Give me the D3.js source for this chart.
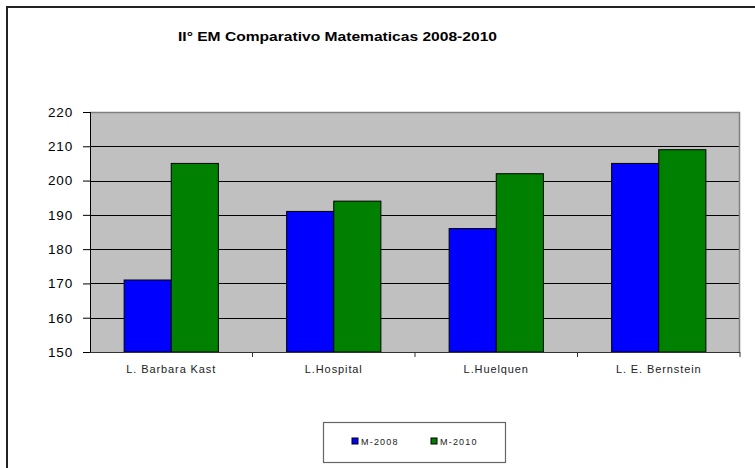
<!DOCTYPE html>
<meta charset="utf-8">
<style>
    body {
        margin: 0;
        background: #fff;
        font-family: Arial, "Liberation Sans", sans-serif;
    }
    .title {
        font-size: 13px;
        font-weight: bold;
        fill: #000;
    }
    .y.axis text {
        font-size: 13.5px;
        fill: #000;
        letter-spacing: 0.8px;
    }
    .x.axis text {
        font-size: 11px;
        fill: #222;
        letter-spacing: 0.9px;
    }
    .grid line {
        stroke: #000;
        stroke-width: 1;
    }
    rect.bar {
        stroke: #000;
        stroke-width: 1;
    }
    .legend text {
        font-size: 9px;
        fill: #222;
        letter-spacing: 1.2px;
    }
</style>
<body>
<script src="https://cdn.jsdelivr.net/npm/d3@7"></script>
<script>

    var categories = ["L. Barbara Kast", "L.Hospital", "L.Huelquen", "L. E. Bernstein"],
        seriesNames = ["M-2008", "M-2010"],
        m2008 = [171, 191, 186, 205],
        m2010 = [205, 194, 202, 209],
        yTicks = [150, 160, 170, 180, 190, 200, 210, 220],
        colors = ["#0000ff", "#008000"];

    var W = 755, H = 468,
        margin = {top: 112, right: 15, bottom: 116, left: 90},
        width = W - margin.left - margin.right,
        height = H - margin.top - margin.bottom;

    var data = categories.map(function(c, i) {
        return {cat: c, values: [m2008[i], m2010[i]]};
    });

    var x0 = d3.scaleBand()
            .domain(categories)
            .range([0, width])
            .paddingInner(0)
            .paddingOuter(0);

    var x1 = d3.scaleBand()
            .domain(seriesNames)
            .range([x0.bandwidth() * 0.21, x0.bandwidth() * 0.79]);

    var y = d3.scaleLinear()
            .domain([150, 220])
            .range([height, 0]);

    var svg = d3.select("body").append("svg")
            .attr("width", W)
            .attr("height", H);

    // outer frame (only top and left edges show)
    svg.append("path")
            .attr("d", "M7," + H + "V7H" + W)
            .attr("fill", "none")
            .attr("stroke", "#222")
            .attr("stroke-width", 2);

    svg.append("text")
            .attr("class", "title")
            .attr("x", 178)
            .attr("y", 41)
            .attr("textLength", 319)
            .attr("lengthAdjust", "spacingAndGlyphs")
            .text("II\u00b0 EM Comparativo Matematicas 2008-2010");

    var g = svg.append("g")
            .attr("transform", "translate(" + margin.left + "," + margin.top + ")");

    g.append("rect")
            .attr("width", width)
            .attr("height", height)
            .attr("fill", "#c0c0c0");

    g.append("g")
            .attr("class", "grid")
        .selectAll("line")
        .data(yTicks.slice(1, -1))
        .enter().append("line")
            .attr("x1", 0)
            .attr("x2", width)
            .attr("y1", function(d) { return Math.round(y(d)) + 0.5; })
            .attr("y2", function(d) { return Math.round(y(d)) + 0.5; });

    // plot border top/right
    g.append("path")
            .attr("d", "M0,0.5H" + (width - 0.5) + "V" + height)
            .attr("fill", "none")
            .attr("stroke", "#808080")
            .attr("stroke-width", 1.5);

    var groups = g.selectAll("g.group")
        .data(data)
        .enter().append("g")
            .attr("class", "group")
            .attr("transform", function(d) { return "translate(" + x0(d.cat) + ",0)"; });

    groups.selectAll("rect")
        .data(function(d) { return d.values.map(function(v, i) { return {key: seriesNames[i], value: v, i: i}; }); })
        .enter().append("rect")
            .attr("class", "bar")
            .attr("x", function(d) { return x1(d.key); })
            .attr("y", function(d) { return y(d.value); })
            .attr("width", x1.bandwidth())
            .attr("height", function(d) { return height - y(d.value); })
            .attr("fill", function(d) { return colors[d.i]; });

    var yAxis = d3.axisLeft(y)
            .tickValues(yTicks)
            .tickSize(7)
            .tickPadding(10);

    g.append("g")
            .attr("class", "y axis")
            .call(yAxis)
            .call(function(s) {
                s.select(".domain").attr("stroke", "#000").attr("d", "M0.5,0V" + height);
                s.selectAll(".tick line").attr("stroke", "#000");
            });

    var xAxis = d3.axisBottom(x0)
            .tickSize(0)
            .tickPadding(13);

    var xg = g.append("g")
            .attr("class", "x axis")
            .attr("transform", "translate(0," + height + ")")
            .call(xAxis);
    xg.select(".domain").attr("stroke", "#333").attr("d", "M0,0.5H" + width);

    // category separator ticks
    xg.selectAll("line.sep")
        .data(categories)
        .enter().append("line")
            .attr("class", "sep")
            .attr("x1", function(d) { return x0(d) + x0.bandwidth(); })
            .attr("x2", function(d) { return x0(d) + x0.bandwidth(); })
            .attr("y1", 0)
            .attr("y2", 5)
            .attr("stroke", "#333");

    // legend
    var legend = svg.append("g")
            .attr("class", "legend");

    legend.append("rect")
            .attr("x", 323.5)
            .attr("y", 422.5)
            .attr("width", 182)
            .attr("height", 40)
            .attr("fill", "#fff")
            .attr("stroke", "#666")
            .attr("stroke-width", 1.2);

    var item = legend.selectAll("g.item")
        .data(seriesNames)
        .enter().append("g")
            .attr("class", "item")
            .attr("transform", function(d, i) { return "translate(" + (352 + i * 79) + ",438)"; });

    item.append("rect")
            .attr("width", 6)
            .attr("height", 6)
            .attr("fill", function(d, i) { return colors[i]; })
            .attr("stroke", "#000");

    item.append("text")
            .attr("x", 9)
            .attr("y", 6.5)
            .text(function(d) { return d; });

</script>
</body>
